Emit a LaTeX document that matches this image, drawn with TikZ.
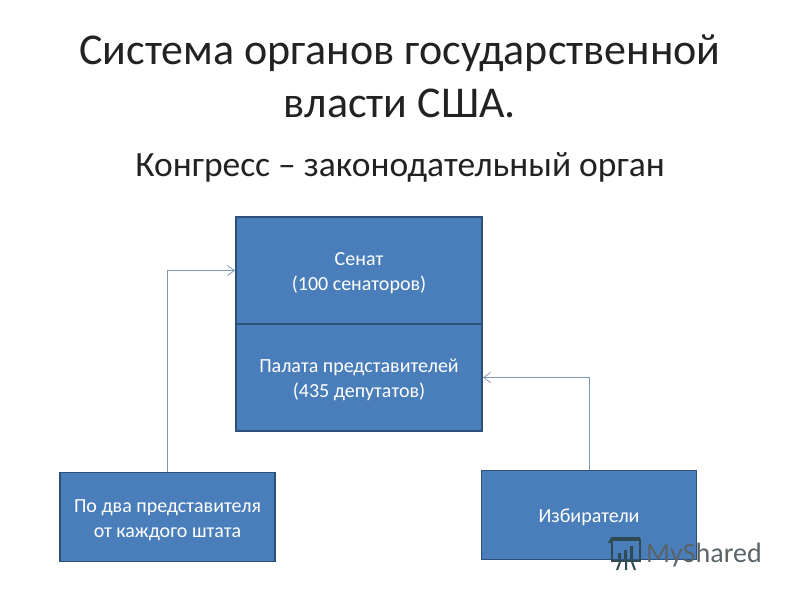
\documentclass[tikz,border=0pt]{standalone}
\usepackage{fontspec}
\setmainfont{Carlito}
\usetikzlibrary{arrows.meta}
\definecolor{boxfill}{HTML}{4A7EBB}
\definecolor{boxline}{HTML}{2D5078}
\definecolor{linkline}{HTML}{8099B3}
\definecolor{ink}{HTML}{222222}
\definecolor{logoink}{HTML}{2F4A50}
\definecolor{logotext}{HTML}{5A6468}
\newcommand\toppad{\rule{0pt}{18.5pt}}
\tikzset{
  x=1pt,y=-1pt,
  blockbox/.style={draw=boxline,line width=1.8pt,fill=boxfill,text=white,align=center,inner sep=0pt,font=\fontsize{20}{25}\selectfont},
  link/.style={draw=linkline,line width=1pt,-{Straight Barb[length=7pt,width=10pt,line width=0.8pt]}},
  heading/.style={text=ink,align=center,inner sep=0pt,font=\fontsize{44}{53}\selectfont},
  subheading/.style={text=ink,inner sep=0pt,font=\fontsize{35.5}{40}\selectfont},
  wm/.style={text=logotext,inner sep=0pt,anchor=west,font=\fontsize{28}{30}\selectfont}
}
\begin{document}
\begin{tikzpicture}
\useasboundingbox (0,0) rectangle (800,600);
\fill[white] (0,0) rectangle (800,600);
\node[heading] (title) at (400,76) {Система органов государственной\\власти США.};
\node[subheading] (sub) at (400,167) {Конгресс – законодательный орган};
\node[blockbox,minimum width=246pt,minimum height=107pt] (senate) at (359,270.5) {\toppad Сенат\\(100 сенаторов)};
\node[blockbox,minimum width=246pt,minimum height=107pt] (house) at (359,377.5) {\toppad Палата представителей\\(435 депутатов)};
\node[blockbox,minimum width=215pt,minimum height=89pt] (reps) at (167.5,517) {\toppad По два представителя\\от каждого штата};
\node[blockbox,minimum width=215pt,minimum height=89pt] (voters) at (589,515) {\toppad Избиратели};
\draw[link] (reps.north) |- (senate.west);
\draw[link] (voters.north) |- (house.east);
\node[wm] (brand) at (646,555) {MyShared};
\begin{scope}[draw=logoink,line width=2pt]
\draw (612,540) rectangle (640,561);
\draw (609,543) -- (612,538) -- (640,538);
\draw (617,570) -- (620,562) (626,570) -- (626,562) (635,570) -- (632,562);
\fill[logoink] (618,553) rectangle (621,559) (624,550) rectangle (627,559) (630,546) rectangle (633,559);
\end{scope}
\end{tikzpicture}
\end{document}
